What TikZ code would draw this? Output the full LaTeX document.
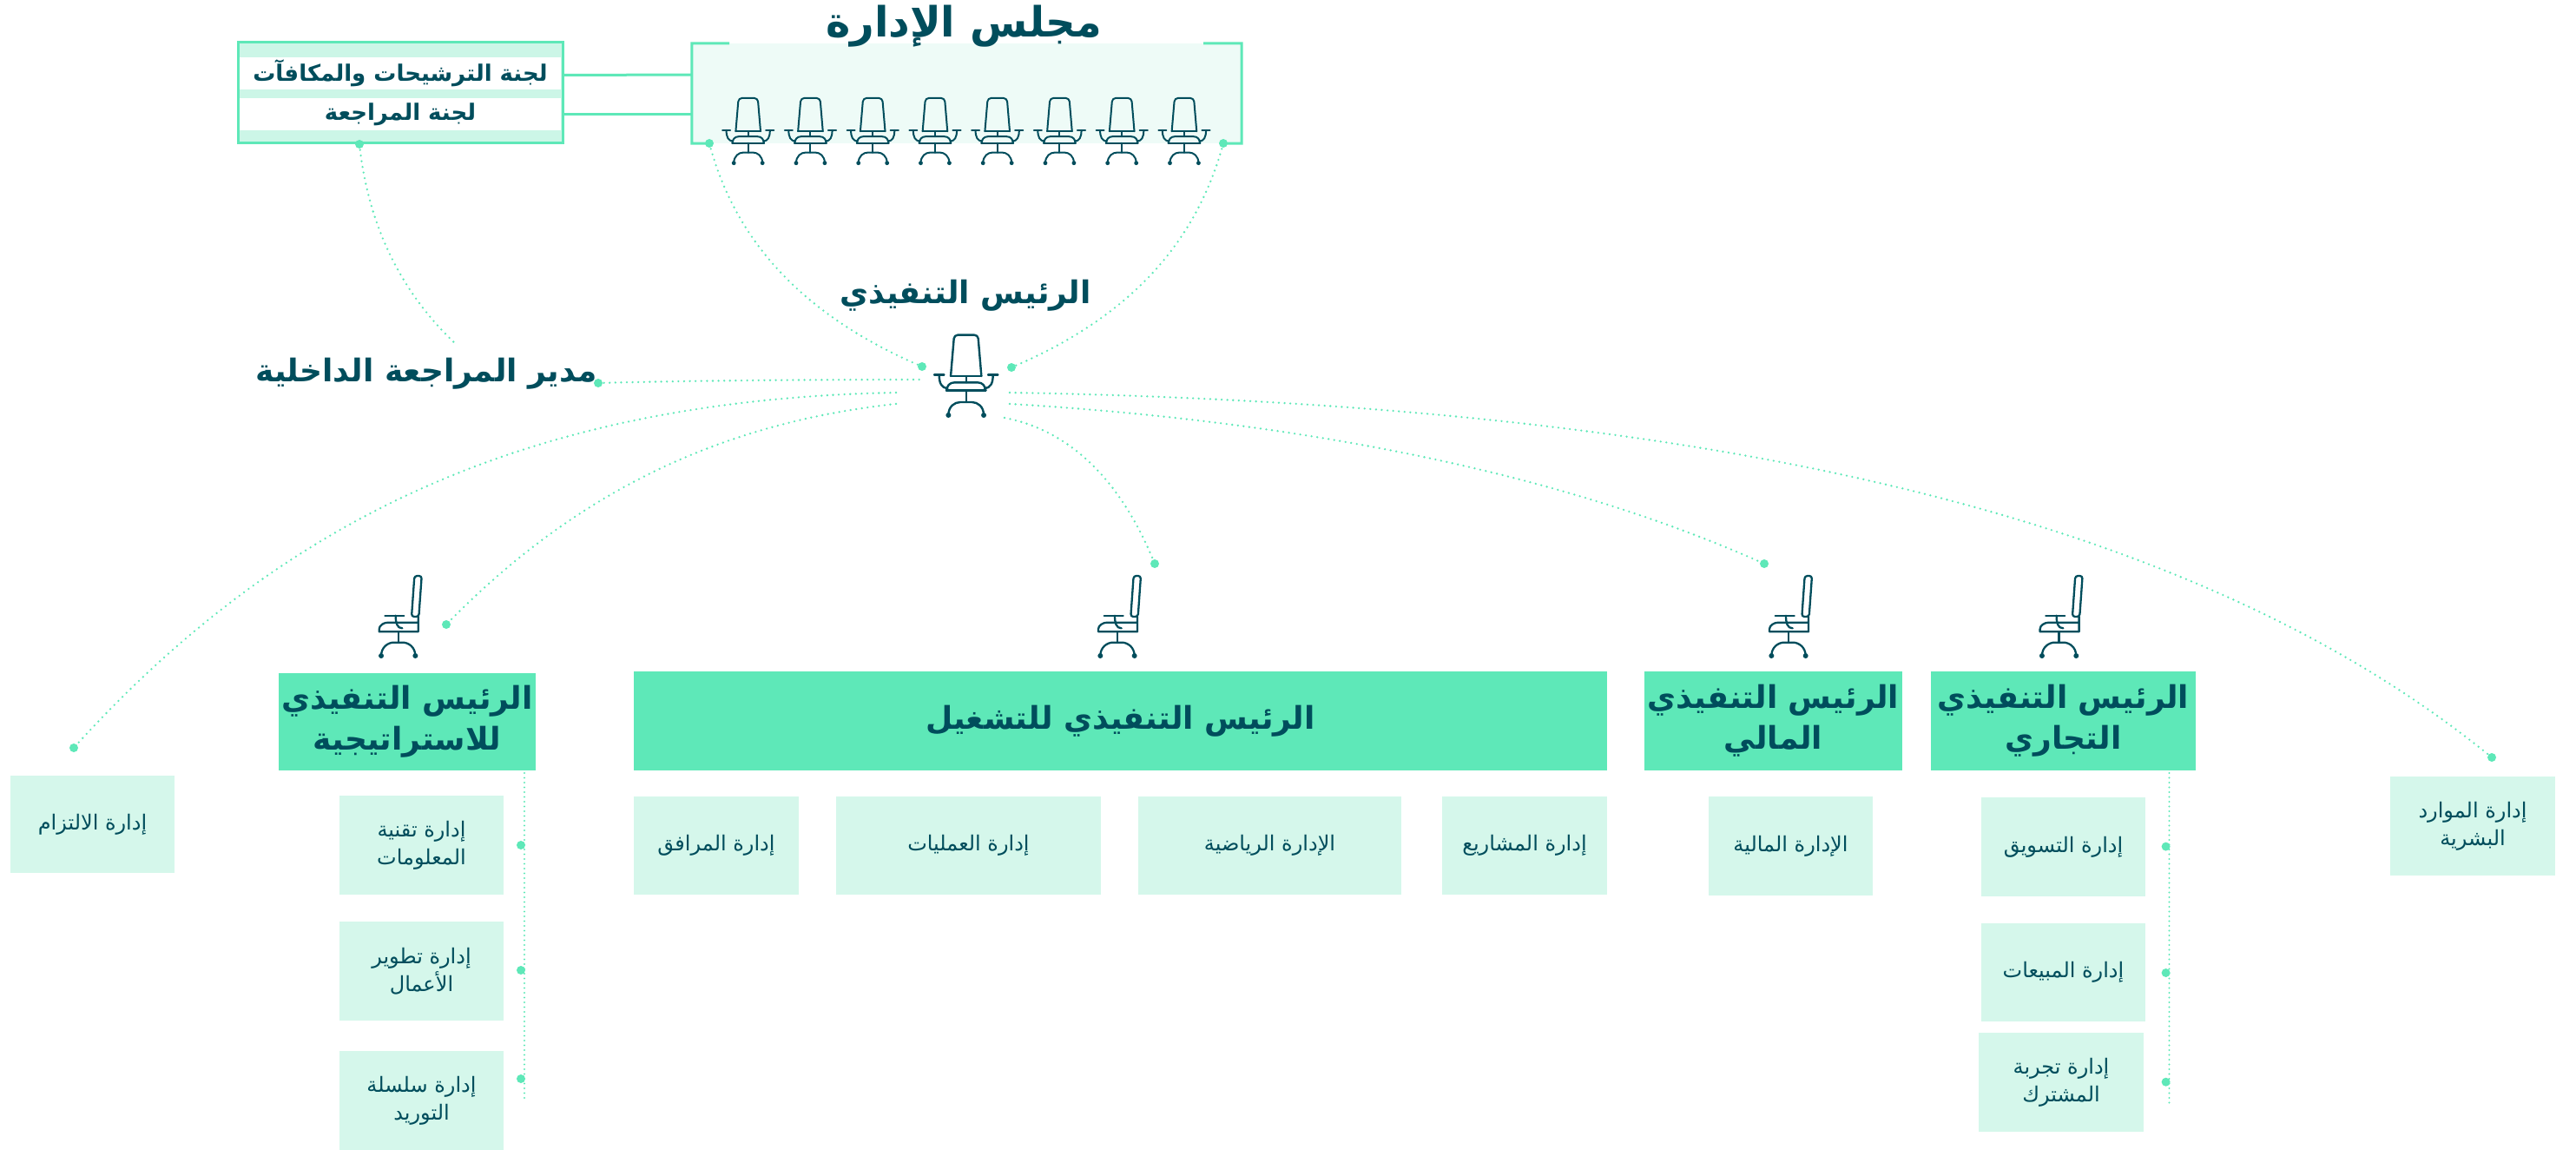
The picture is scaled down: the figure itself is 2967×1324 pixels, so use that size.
\documentclass[tikz,border=0pt]{standalone}
\usepackage{fontspec}
\TeXXeTstate=1
\newfontfamily\arabicfont[Script=Arabic]{DejaVu Sans}
\definecolor{grn}{HTML}{5EE8B8}
\definecolor{pale}{HTML}{D5F7EB}
\definecolor{paler}{HTML}{EEFBF7}
\definecolor{band}{HTML}{CCF6E7}
\definecolor{ink}{HTML}{004D5C}
\newcommand{\ar}[1]{{\beginR #1\endR}}
\newcommand{\sz}[2]{\arabicfont\fontsize{#1}{#2}\selectfont}
\newcommand{\bx}[7][]{\node[#2,minimum width={#5-#3},minimum height={#6-#4},#1] (#7) at ({(#3+#5)/2},{(#4+#6)/2})}
\tikzset{
  x=1pt,y=-1pt,
  mainbox/.style={fill=grn,text=ink,inner sep=0pt,outer sep=0pt,align=center,font=\sz{36}{47}\bfseries},
  subbox/.style={fill=pale,text=ink,inner sep=0pt,outer sep=0pt,align=center,font=\sz{24}{32}},
  title/.style={text=ink,inner sep=0pt,align=center,font=\sz{36}{47}\bfseries},
  bandbox/.style={fill=white,text=ink,inner sep=0pt,outer sep=0pt,font=\sz{26}{32}\bfseries},
  dot/.style={circle,fill=grn,inner sep=0pt,minimum size=10pt},
  dots/.style={grn,line width=2.6pt,line cap=round,dash pattern=on 0pt off 6.6pt},
  link/.style={grn,line width=3pt},
  chairfront/.pic={
    \begin{scope}[ink,line cap=round,line join=round]
    \draw (-53,-135) -- (53,-135);
    \draw[rounded corners=4pt] (-53,-135) -- (-41,-277) -- (41,-277) -- (53,-135);
    \draw (-110,-140) -- (-76,-140);
    \draw (110,-140) -- (76,-140);
    \draw (-93,-140) .. controls (-93,-110) and (-85,-95) .. (-64,-92);
    \draw (93,-140) .. controls (93,-110) and (85,-95) .. (64,-92);
    \draw (-68,-85) -- (68,-85);
    \draw (-68,-85) .. controls (-66,-100) and (-58,-113) .. (-40,-113) -- (40,-113) .. controls (58,-113) and (66,-100) .. (68,-85);
    \draw (0,-135) -- (0,-113);
    \draw (0,-85) -- (0,-45);
    \draw (-61,0) .. controls (-61,-30) and (-40,-45) .. (-20,-45) -- (20,-45) .. controls (40,-45) and (61,-30) .. (61,0);
    \fill (-61,0) circle (9);
    \fill (61,0) circle (9);
    \end{scope}
  },
  chairside/.pic={
    \begin{scope}[ink,line cap=round,line join=round]
    \draw[rounded corners=3pt] (46,-135) -- (71,-135) -- (81,-276) -- (56,-276) -- cycle;
    \draw (-46,-139) -- (20,-139);
    \draw (-9,-139) .. controls (-9,-115) and (-5,-95) .. (14,-95);
    \draw (69,-135) -- (69,-83) -- (-66,-83) -- (-66,-92) .. controls (-66,-105) and (-50,-115) .. (-35,-115) -- (69,-115);
    \draw (0,-83) -- (0,-46);
    \draw (-59,0) .. controls (-59,-30) and (-35,-46) .. (-15,-46) -- (15,-46) .. controls (35,-46) and (59,-30) .. (59,0);
    \fill (-59,0) circle (9);
    \fill (59,0) circle (9);
    \end{scope}
  }
}
\begin{document}
\begin{tikzpicture}
\useasboundingbox (0,0) rectangle (2967,1324);
% committee
\bx{fill=band,draw=grn,line width=3pt}{274}{49}{648}{165}{committee} {};
\bx{bandbox}{276}{66}{646}{103}{cNom} {\ar{لجنة الترشيحات والمكافآت}};
\bx{bandbox}{276}{113}{646}{150}{cAud} {\ar{لجنة المراجعة}};
% board
\bx{fill=paler}{797}{50}{1430}{165}{board} {};
\draw[link] (840,50) -- (board.north west) -- (board.south west) -- (817,165);
\draw[link] (1386,50) -- (board.north east) -- (board.south east) -- (1409,165);
\draw[link] (cNom.east) ++(2,2) -- (board.west |- 0,86);
\draw[link] (cAud.east) ++(2,0.5) -- (board.west |- 0,132);
\node[title,font=\sz{48}{50}\bfseries] (boardT) at (1110,30) {\ar{مجلس الإدارة}};
\foreach \i in {0,...,7}{
  \pic[scale=0.27,line width=2pt] at ({861.7+71.75*\i},187.7) {chairfront};
}
% ceo
\node[title] (ceoT) at (1112,340) {\ar{الرئيس التنفيذي}};
\pic[scale=0.3333,line width=2.4pt] at (1112.7,478) {chairfront};
\node[title] (auditT) at (491,430) {\ar{مدير المراجعة الداخلية}};
% dots
\node[dot] (dAudC) at (414,166) {};
\node[dot] (dBL) at (817,165) {};
\node[dot] (dBR) at (1409,165) {};
\node[dot] (dCL) at (1062,422) {};
\node[dot] (dCR) at (1165,423) {};
\node[dot] (dAudit) at (689,441) {};
\node[dot] (dComp) at (85,861) {};
\node[dot] (dStr) at (514,719) {};
\node[dot] (dCOO) at (1330,649) {};
\node[dot] (dCFO) at (2032,649) {};
\node[dot] (dHR) at (2870,872) {};
\coordinate (eAud) at (526,397);
\coordinate (eAudit) at (1063,437);
\coordinate (eComp) at (1032,452);
\coordinate (eStr) at (1032,465);
\coordinate (eCOO) at (1157,481);
\coordinate (eCFO) at (1163,465);
\coordinate (eHR) at (1163,452);
\draw[dots] (dAudC.center) .. controls (425,270) and (470,345) .. (eAud);
\draw[dots] (dBL.center) .. controls (850,290) and (940,370) .. (dCL.center);
\draw[dots] (dBR.center) .. controls (1375,290) and (1290,370) .. (dCR.center);
\draw[dots] (dAudit.center) .. controls (800,438) and (950,437) .. (eAudit);
\draw[dots] (eComp) .. controls (620,460) and (330,590) .. (dComp.center);
\draw[dots] (eStr) .. controls (800,490) and (640,590) .. (dStr.center);
\draw[dots] (eCOO) .. controls (1230,495) and (1290,550) .. (dCOO.center);
\draw[dots] (eCFO) .. controls (1500,485) and (1800,545) .. (dCFO.center);
\draw[dots] (eHR) .. controls (1900,465) and (2500,570) .. (dHR.center);
% side chairs
\foreach \xx in {458.7,1287,2060,2371.6}{
  \pic[scale=0.3333,line width=2.3pt] at (\xx,755) {chairside};
}
% main boxes
\bx{mainbox}{321}{775}{617}{887}{strat} {\ar{الرئيس التنفيذي}\\\ar{للاستراتيجية}};
\bx{mainbox}{730}{773}{1851}{887}{coo} {\ar{الرئيس التنفيذي للتشغيل}};
\bx{mainbox}{1894}{773}{2191}{887}{cfo} {\ar{الرئيس التنفيذي}\\\ar{المالي}};
\bx{mainbox}{2224}{773}{2529}{887}{cco} {\ar{الرئيس التنفيذي}\\\ar{التجاري}};
% sub boxes
\bx{subbox}{12}{893}{201}{1005}{comp} {\ar{إدارة الالتزام}};
\bx{subbox}{391}{916}{580}{1030}{it} {\ar{إدارة تقنية}\\\ar{المعلومات}};
\bx{subbox}{391}{1061}{580}{1175}{bd} {\ar{إدارة تطوير}\\\ar{الأعمال}};
\bx{subbox}{391}{1210}{580}{1324}{sc} {\ar{إدارة سلسلة}\\\ar{التوريد}};
\bx{subbox}{730}{917}{920}{1030}{fac} {\ar{إدارة المرافق}};
\bx{subbox}{963}{917}{1268}{1030}{ops} {\ar{إدارة العمليات}};
\bx{subbox}{1311}{917}{1614}{1030}{sport} {\ar{الإدارة الرياضية}};
\bx{subbox}{1661}{917}{1851}{1030}{proj} {\ar{إدارة المشاريع}};
\bx{subbox}{1968}{917}{2157}{1031}{fin} {\ar{الإدارة المالية}};
\bx{subbox}{2282}{918}{2471}{1032}{mkt} {\ar{إدارة التسويق}};
\bx{subbox}{2282}{1063}{2471}{1176}{sales} {\ar{إدارة المبيعات}};
\bx{subbox}{2279}{1189}{2469}{1303}{cx} {\ar{إدارة تجربة}\\\ar{المشترك}};
\bx{subbox}{2753}{894}{2943}{1008}{hr} {\ar{إدارة الموارد}\\\ar{البشرية}};
% rails
\coordinate (railS) at (604,890);
\coordinate (railSe) at (604,1267);
\draw[dots,line width=2.2pt,dash pattern=on 0pt off 5.5pt] (railS) -- (railSe);
\coordinate (railC) at (2498.5,890);
\coordinate (railCe) at (2498.5,1270);
\draw[dots,line width=2.2pt,dash pattern=on 0pt off 5.5pt] (railC) -- (railCe);
\node[dot] (dIt) at (600,973) {};
\node[dot] (dBd) at (600,1117) {};
\node[dot] (dSc) at (600,1242) {};
\node[dot] (dMkt) at (2494.6,974.6) {};
\node[dot] (dSales) at (2494.6,1120) {};
\node[dot] (dCx) at (2494.6,1245.7) {};
\end{tikzpicture}
\end{document}
